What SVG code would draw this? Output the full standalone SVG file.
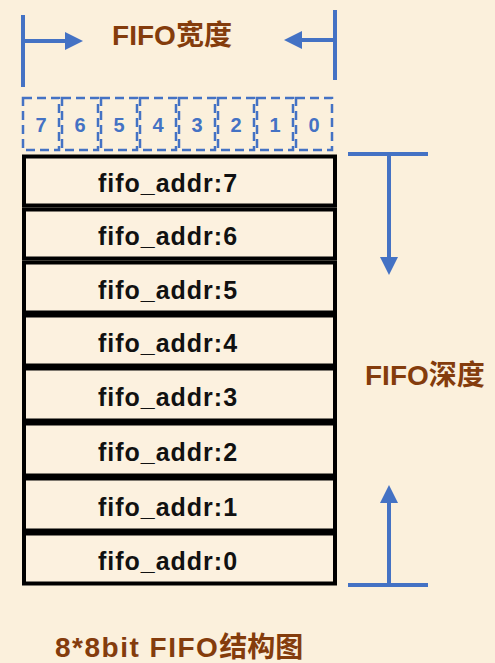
<svg xmlns="http://www.w3.org/2000/svg" width="495" height="663" viewBox="0 0 495 663">
  <defs>
    <marker id="head" viewBox="0 0 18 18" refX="1" refY="9" markerWidth="18" markerHeight="18" markerUnits="userSpaceOnUse" orient="auto">
      <path d="M0,0 L18,9 L0,18 z" fill="#4472C4"/>
    </marker>
    <style>
      .blue { stroke: #4472C4; stroke-width: 4; fill: none; }
      .arrow { stroke: #4472C4; stroke-width: 4; fill: none; marker-end: url(#head); }
      .bit rect { fill: none; stroke: #4472C4; stroke-width: 2.5; stroke-dasharray: 9 5; }
      .bit text { font-family: "Liberation Sans", Arial, sans-serif; font-weight: bold; font-size: 20px; fill: #4472C4; text-anchor: middle; }
      .row rect { fill: #FCF1DF; stroke: #000; stroke-width: 4; }
      .row text { font-family: "Liberation Sans", Arial, sans-serif; font-weight: bold; font-size: 25px; fill: #111; text-anchor: middle; letter-spacing: 1px; }
      .label { font-family: "Liberation Sans", "Noto Sans CJK SC", sans-serif; font-weight: bold; font-size: 28px; fill: #843C0C; }
    </style>
  </defs>
  <rect x="0" y="0" width="495" height="663" fill="#FBF0DC"/>

  <g id="title-width">
    <text class="label" x="172" y="45" text-anchor="middle">FIFO宽度</text>
  </g>
  <g id="title-depth">
    <text class="label" x="365" y="385">FIFO深度</text>
  </g>
  <g id="caption">
    <text class="label" x="55" y="657" font-size="29"><tspan letter-spacing="1.5">8*8bit FIFO</tspan><tspan>结构图</tspan></text>
  </g>

  <g id="bits" class="bit">
    <g id="bit7"><rect x="23" y="98" width="36" height="52"/><text x="41" y="132">7</text></g>
    <g id="bit6"><rect x="62" y="98" width="36" height="52"/><text x="80" y="132">6</text></g>
    <g id="bit5"><rect x="101" y="98" width="36" height="52"/><text x="119" y="132">5</text></g>
    <g id="bit4"><rect x="140" y="98" width="36" height="52"/><text x="158" y="132">4</text></g>
    <g id="bit3"><rect x="179" y="98" width="36" height="52"/><text x="197" y="132">3</text></g>
    <g id="bit2"><rect x="218" y="98" width="36" height="52"/><text x="236" y="132">2</text></g>
    <g id="bit1"><rect x="257" y="98" width="36" height="52"/><text x="275" y="132">1</text></g>
    <g id="bit0"><rect x="296" y="98" width="36" height="52"/><text x="314" y="132">0</text></g>
  </g>

  <g id="rows" class="row">
    <g id="addr7"><rect x="24" y="156.5" width="311" height="49"/><text x="168" y="192">fifo_addr:7</text></g>
    <g id="addr6"><rect x="24" y="209.5" width="311" height="49"/><text x="168" y="245">fifo_addr:6</text></g>
    <g id="addr5"><rect x="24" y="262.5" width="311" height="50"/><text x="168" y="299">fifo_addr:5</text></g>
    <g id="addr4"><rect x="24" y="315.5" width="311" height="50"/><text x="168" y="352">fifo_addr:4</text></g>
    <g id="addr3"><rect x="24" y="368.5" width="311" height="52"/><text x="168" y="406">fifo_addr:3</text></g>
    <g id="addr2"><rect x="24" y="423.5" width="311" height="52"/><text x="168" y="461">fifo_addr:2</text></g>
    <g id="addr1"><rect x="24" y="478.5" width="311" height="52"/><text x="168" y="516">fifo_addr:1</text></g>
    <g id="addr0"><rect x="24" y="533.5" width="311" height="50"/><text x="168" y="570">fifo_addr:0</text></g>
  </g>

  <g id="connectors">
    <line class="blue" x1="23" y1="15" x2="23" y2="87"/>
    <line class="arrow" x1="23" y1="41" x2="66" y2="41"/>
    <line class="blue" x1="335" y1="10" x2="335" y2="80"/>
    <line class="arrow" x1="335" y1="40" x2="301" y2="40"/>
    <line class="blue" x1="348" y1="154" x2="428" y2="154"/>
    <line class="arrow" x1="389" y1="154" x2="389" y2="258"/>
    <line class="blue" x1="348" y1="585" x2="428" y2="585"/>
    <line class="arrow" x1="389" y1="585" x2="389" y2="502"/>
  </g>
</svg>
